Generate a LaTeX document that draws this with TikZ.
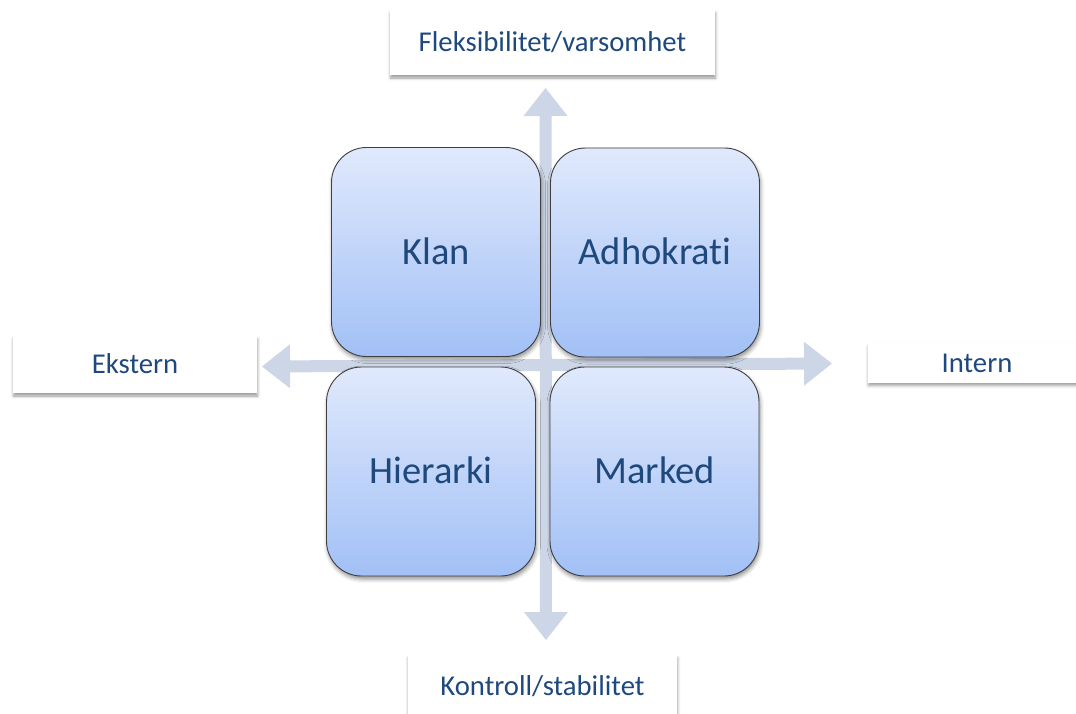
\documentclass[tikz,border=0pt]{standalone}
\usepackage{fontspec}
\setmainfont{Carlito}[Ligatures=NoCommon]
\usetikzlibrary{arrows.meta,shadows.blur}
\definecolor{txt}{HTML}{1F497D}
\definecolor{quadtop}{HTML}{E0E9FC}
\definecolor{quadbot}{HTML}{A2C0F6}
\definecolor{axiscol}{HTML}{CDD6E6}
\definecolor{rim}{HTML}{3F3F3F}

\tikzset{headtip/.tip={Triangle[width=44pt,length=28pt,line width=0pt]}}

\begin{document}
\begin{tikzpicture}[x=1pt,y=-1pt,
  quad/.style={draw=rim, line width=0.9pt, rounded corners=35pt,
    top color=quadtop, bottom color=quadbot,
    minimum width=209pt, minimum height=209pt, inner sep=0pt,
    text=txt, font=\fontsize{38.5}{46}\selectfont,
    text height=24.6pt, text depth=0pt,
    blur shadow={shadow xshift=1pt, shadow yshift=-3pt,
      shadow blur radius=4pt, shadow opacity=45}},
  tag/.style={fill=white, inner sep=0pt,
    text=txt, font=\fontsize{28.7}{34}\selectfont,
    text height=18.4pt, text depth=0pt,
    blur shadow={shadow xshift=0.5pt, shadow yshift=-3pt,
      shadow blur radius=3pt, shadow opacity=40}},
  axisline/.style={draw=axiscol, line width=12pt, headtip-headtip}
]
\useasboundingbox (0,0) rectangle (1076,713);
\clip (0,0) rectangle (1076,713);

% axis end points
\coordinate (vtop) at (545.5,88);
\coordinate (vbot) at (546,640);
\coordinate (hleft) at (262,366.5);
\coordinate (hright) at (832,363.5);

% the two axes
\draw[axisline] (vbot) -- (vtop);
\draw[axisline] (hleft) -- (hright);

% the four quadrants
\node[quad] (klan) at (436,252) {Klan};
\node[quad] (adho) at (655,252.5) {Adhokrati};
\node[quad] (hier) at (431,471.5) {Hierarki};
\node[quad] (mark) at (654.5,471.5) {Marked};

% axis captions
\node[tag, minimum width=325pt, minimum height=65pt] (flex) at (552.5,42.5) {Fleksibilitet/varsomhet};
\node[tag, minimum width=244pt, minimum height=57pt] (ekst) at (135,364.5) {Ekstern};
\node[tag, minimum width=218pt, minimum height=39pt] (intr) at (977,363) {Intern};
\node[tag, minimum width=269pt, minimum height=62pt] (kont) at (542.5,686) {Kontroll/stabilitet};
\end{tikzpicture}
\end{document}
